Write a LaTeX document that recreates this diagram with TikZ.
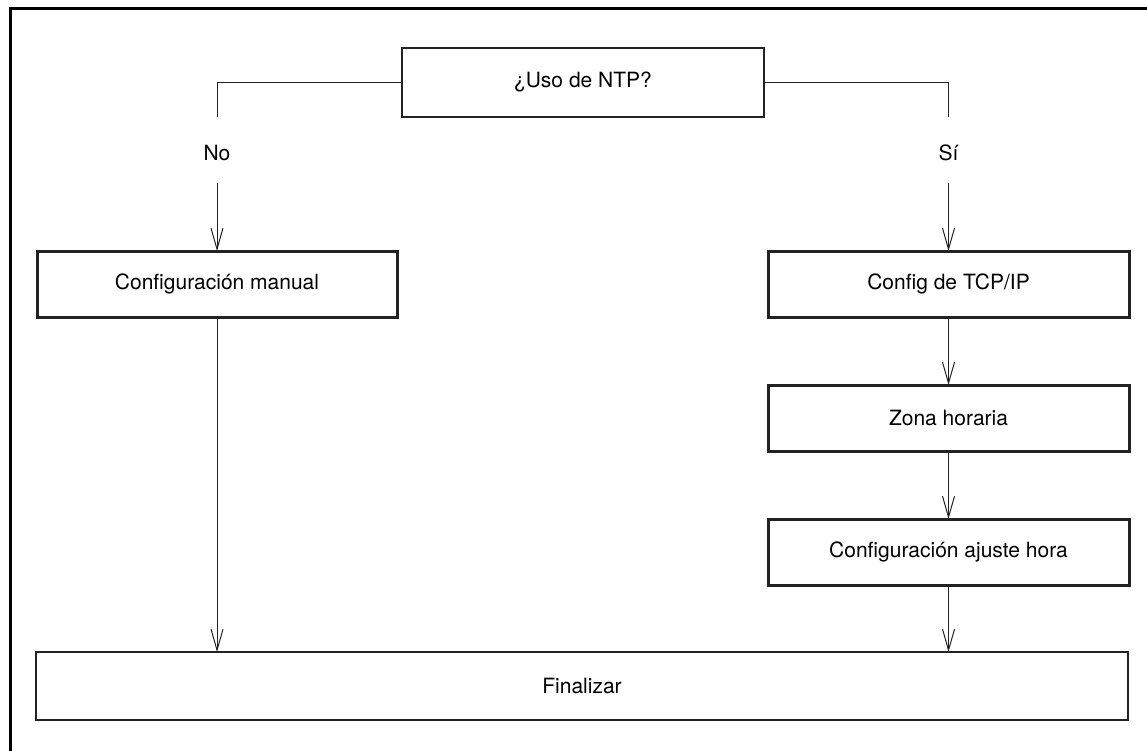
\documentclass[tikz,border=0pt]{standalone}
\usepackage{fontspec}
\setmainfont{TeX Gyre Heros}
\usetikzlibrary{arrows.meta}
\definecolor{ink}{HTML}{222222}
\tikzset{
  box/.style={draw=ink, line width=1.3pt, rectangle, inner sep=0pt, outer sep=0pt,
    font=\fontsize{21}{25}\selectfont},
  thickbox/.style={box, line width=3pt},
  lbl/.style={inner sep=0pt, font=\fontsize{21}{25}\selectfont},
  conn/.style={draw=ink, line width=1pt},
  arr/.style={conn, -{Straight Barb[length=21pt, width=12pt, line width=1pt]}},
}
\begin{document}
\begin{tikzpicture}[x=1pt, y=-1pt]
\useasboundingbox (0,0) rectangle (1147,751);
% frame (top and left edges)
\draw[line width=3pt, black] (10,751) -- (10,9) -- (1147,9);

\node[box, minimum width=362pt, minimum height=69pt] (q) at (583,82.5) {¿Uso de NTP?};
\node[lbl] (no) at (217,153) {No};
\node[lbl] (si) at (948.5,153) {Sí};

\node[thickbox, minimum width=360pt, minimum height=66pt] (man) at (217,284) {Configuración manual};
\node[thickbox, minimum width=361pt, minimum height=66pt] (tcp) at (948.5,284) {Config de TCP/IP};
\node[thickbox, minimum width=361pt, minimum height=66pt] (zona) at (948.5,418) {Zona horaria};
\node[thickbox, minimum width=361pt, minimum height=66pt] (aj) at (948.5,552) {Configuración ajuste hora};
\node[box, minimum width=1092pt, minimum height=68pt] (fin) at (582,686) {Finalizar};

\coordinate (nl) at (217,117);
\coordinate (nr) at (948.5,117);
\coordinate (al) at (217,183);
\coordinate (ar) at (948.5,183);

\draw[conn] (q.west) -| (nl);
\draw[conn] (q.east) -| (nr);
\draw[arr] (al) -- (man.north);
\draw[arr] (ar) -- (tcp.north);
\draw[arr] (tcp.south) -- (zona.north);
\draw[arr] (zona.south) -- (aj.north);
\draw[arr] (aj.south) -- (aj.south |- fin.north);
\draw[arr] (man.south) -- (man.south |- fin.north);
\end{tikzpicture}
\end{document}
